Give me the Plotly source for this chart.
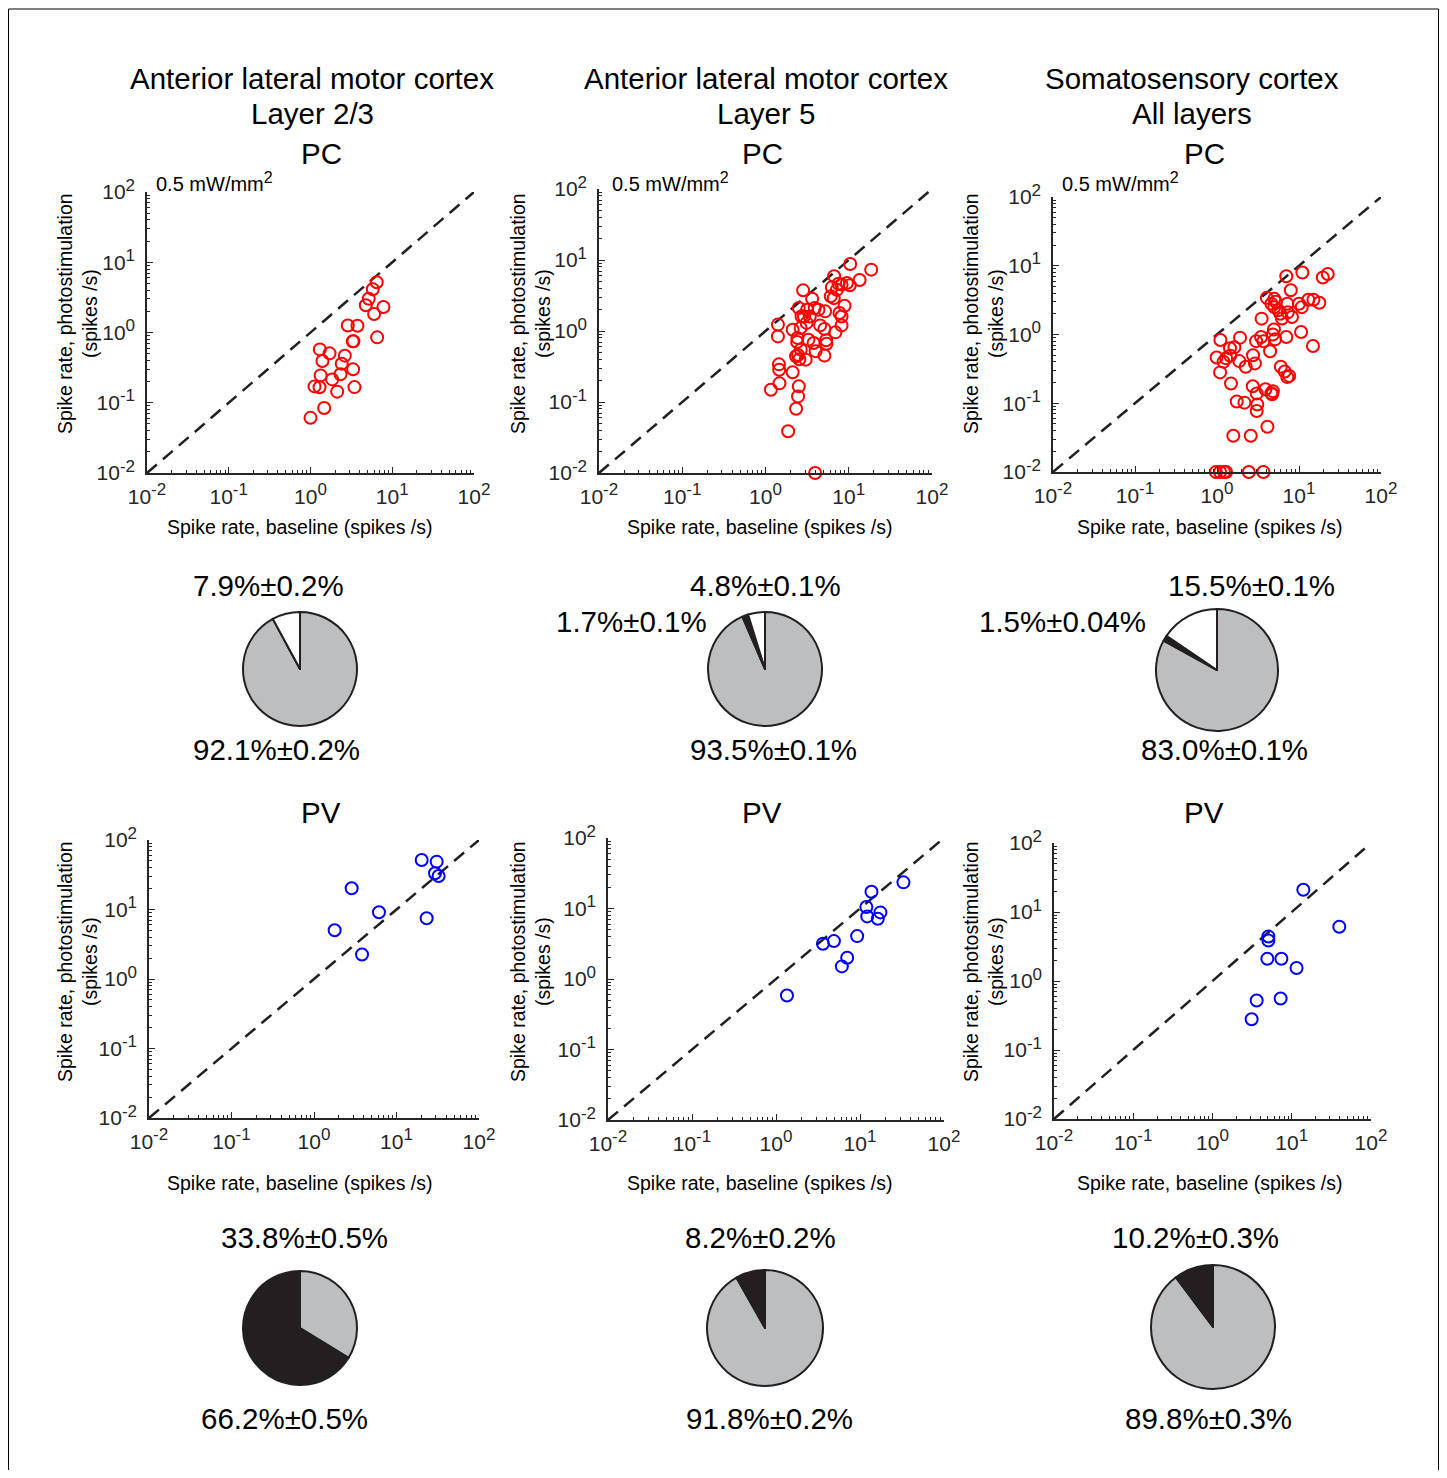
import plotly.graph_objects as go

OFF = 8  # page margin around the plot div
W, H = 1447 - 2 * OFF, 1478 - 2 * OFF

# ---- data ----
# PC, anterior lateral motor cortex layer 2/3
pc1_base = [1.0, 1.47, 1.12, 1.29, 1.33, 2.12, 1.84, 2.33, 2.41, 2.63, 1.40, 1.30, 1.71,
            3.32, 3.45, 3.29, 3.35, 2.86, 3.75, 6.53, 7.8, 6.0, 4.75, 5.16, 5.78, 6.46]
pc1_stim = [0.061, 0.084, 0.171, 0.166, 0.245, 0.144, 0.215, 0.254, 0.36, 0.468, 0.393, 0.575, 0.505,
            0.299, 0.167, 0.748, 0.75, 1.26, 1.25, 0.853, 2.31, 1.83, 2.44, 3.03, 4.12, 5.18]

# PC, anterior lateral motor cortex layer 5
pc2_base = [3.94, 1.87, 2.33, 2.46, 2.51, 1.16, 1.47, 2.12, 1.46, 1.45, 1.41, 1.41, 2.12, 2.42, 2.33,
            2.46, 3.04, 2.65, 2.83, 3.63, 2.51, 3.16, 2.71, 3.12, 2.64, 3.28, 3.78, 4.53, 4.33, 5.2,
            5.1, 5.35, 5.4, 5.1, 6.92, 6.08, 6.26, 6.68, 7.53, 8.2, 7.2, 6.6, 7.74, 8.2, 8.2,
            8.9, 9.5, 10.3, 10.4, 13.5, 18.6, 4.0, 2.9, 3.9, 3.4, 2.4, 2.55]
pc2_stim = [0.01, 0.0387, 0.0805, 0.12, 0.166, 0.149, 0.183, 0.262, 0.285, 0.339, 0.84, 1.23, 1.04, 0.80, 0.44,
            0.46, 0.395, 0.546, 3.74, 2.85, 2.11, 2.0, 1.61, 1.30, 1.1, 0.755, 0.678, 1.2, 2.0, 1.89,
            1.07, 0.74, 0.66, 0.45, 0.957, 3.08, 4.12, 5.89, 4.64, 4.5, 3.8, 2.9, 1.79, 1.6, 1.2,
            2.27, 4.74, 4.4, 8.79, 5.23, 7.31, 0.52, 1.6, 2.1, 1.6, 0.7, 0.40]

# PC, somatosensory cortex
pc3_base = [0.97, 1.09, 1.22, 1.29, 2.44, 3.68, 1.58, 2.58, 4.12, 3.05, 3.1, 1.74, 2.16, 3.05, 2.73, 3.9,
            4.6, 4.7, 4.8, 1.48, 1.09, 0.99, 1.2, 1.29, 1.45, 1.87, 2.24, 2.75, 2.9, 1.1, 1.44,
            1.63, 1.91, 3.0, 3.45, 3.68, 4.44, 4.8, 4.95, 5.1, 6.0, 6.7, 7.2, 7.6, 7.0, 6.2,
            5.6, 5.9, 5.0, 4.6, 5.2, 5.0, 4.05, 3.5, 7.2, 8.2, 7.3, 7.94, 7.0, 11.0, 10.0,
            10.8, 10.6, 14.8, 13.0, 15.0, 17.7, 19.5, 22.4]
pc3_stim = [0.01, 0.01, 0.01, 0.01, 0.01, 0.01, 0.0337, 0.0337, 0.0456, 0.077, 0.096, 0.106, 0.102, 0.139, 0.177, 0.16,
            0.14, 0.135, 0.15, 0.194, 0.281, 0.464, 0.4, 0.45, 0.49, 0.41, 0.339, 0.5, 0.38, 0.83, 0.63,
            0.65, 0.9, 0.8, 0.92, 0.8, 0.57, 1.0, 1.18, 0.85, 0.34, 0.29, 0.24, 0.25, 0.92, 1.71,
            2.26, 2.0, 2.5, 2.8, 3.0, 3.3, 3.41, 1.7, 2.8, 1.8, 2.1, 4.41, 7.04, 7.96, 2.8,
            2.5, 1.09, 0.68, 3.2, 3.2, 2.9, 6.74, 7.6]

# PV cells
pv1_base = [1.78, 2.86, 3.82, 6.13, 20.2, 23.2, 30.7, 29.3, 32.4]
pv1_stim = [5.03, 20.2, 2.25, 9.13, 51.6, 7.49, 48.8, 33.2, 30.4]
pv2_base = [1.35, 3.62, 4.89, 6.08, 7.04, 9.25, 11.9, 12.2, 13.7, 16.3, 17.5, 32.9]
pv2_stim = [0.583, 3.16, 3.45, 1.51, 2.0, 4.06, 10.5, 7.72, 17.3, 7.15, 8.8, 23.5]
pv3_base = [3.12, 3.61, 4.92, 5.07, 5.07, 7.24, 7.4, 11.5, 14.0, 39.8]
pv3_stim = [0.279, 0.521, 2.1, 3.87, 4.42, 0.557, 2.1, 1.54, 21.0, 6.11]

# pie fractions, listed counter-clockwise from 12 o'clock
pc_pie_labels = ["increased", "decreased", "unchanged"]
pc1_pie = [7.9, 0.0, 92.1]
pc2_pie = [4.8, 1.7, 93.5]
pc3_pie = [15.5, 1.5, 83.0]
pv_pie_labels = ["increased", "unchanged"]
pv1_pie = [66.2, 33.8]
pv2_pie = [8.2, 91.8]
pv3_pie = [10.2, 89.8]

pc_pie_text = [["7.9%±0.2%", "", "92.1%±0.2%"],
               ["4.8%±0.1%", "1.7%±0.1%", "93.5%±0.1%"],
               ["15.5%±0.1%", "1.5%±0.04%", "83.0%±0.1%"]]
pv_pie_text = [["33.8%±0.5%", "66.2%±0.5%"],
               ["8.2%±0.2%", "91.8%±0.2%"],
               ["10.2%±0.3%", "89.8%±0.3%"]]

col_titles = [["Anterior lateral motor cortex", "Layer 2/3"],
              ["Anterior lateral motor cortex", "Layer 5"],
              ["Somatosensory cortex", "All layers"]]

tick_vals = [0.01, 0.1, 1, 10, 100]
tick_exp = ["-2", "-1", "0", "1", "2"]
tick_text = ["10<sup><span style='font-size:17px'>%s</span></sup>" % e for e in tick_exp]


def fx(p):
    return (p - OFF) / W


def fy(p):
    return 1 - (p - OFF) / H


FONT = "Liberation Sans, Arial, Helvetica, sans-serif"
INK = "#231f20"
AXC = "#262626"
GRAY = "#bcbec0"

fig = go.Figure()

# axes boxes in pixels: left, right, top, bottom
boxes = [
    (147, 474, 192, 473), (599, 932, 189, 473), (1053, 1381, 197, 472),
    (149, 479, 840, 1118), (608, 944, 838, 1120), (1054, 1371, 843, 1119),
]
series = [(pc1_base, pc1_stim, "red"), (pc2_base, pc2_stim, "red"), (pc3_base, pc3_stim, "red"),
          (pv1_base, pv1_stim, "blue"), (pv2_base, pv2_stim, "blue"), (pv3_base, pv3_stim, "blue")]

minor_vals = [m * 10 ** e for e in range(-2, 2) for m in range(2, 10)]

for i, ((l, r, t, b), (xs, ys, col)) in enumerate(zip(boxes, series)):
    n = "" if i == 0 else str(i + 1)
    # unity line
    fig.add_trace(go.Scatter(x=[0.01, 100], y=[0.01, 100], mode="lines",
                             line=dict(color=INK, width=2.5, dash="13px,8px"),
                             xaxis="x" + n, yaxis="y" + n, showlegend=False, hoverinfo="skip"))
    fig.add_trace(go.Scatter(x=xs, y=ys, mode="markers",
                             marker=dict(symbol="circle-open", size=12, color=col,
                                         line=dict(width=2, color=col)),
                             cliponaxis=False, xaxis="x" + n, yaxis="y" + n, showlegend=False))
    ax = dict(type="log", range=[-2, 2], showgrid=False, zeroline=False, automargin=False,
              showline=True, linecolor=AXC, linewidth=1.5,
              ticks="inside", ticklen=6, tickwidth=1, tickcolor=AXC,
              tickmode="array", tickvals=tick_vals, ticktext=tick_text,
              tickfont=dict(family=FONT, size=21, color=AXC),
              minor=dict(ticks="inside", ticklen=3, tickcolor=AXC, tickvals=minor_vals))
    fig.update_layout({
        "xaxis" + n: dict(ax, domain=[fx(l), fx(r)], anchor="y" + n, ticklabelstandoff=4),
        "yaxis" + n: dict(ax, domain=[fy(b), fy(t)], anchor="x" + n, ticklabelstandoff=6),
    })

# pies (plotly draws them clockwise from 12 o'clock, so the lists are reversed)
pie_geo = [(300, 669, 57), (765, 669, 57), (1217, 670, 61),
           (300, 1328, 57), (765, 1328, 58), (1213, 1327, 62)]
pie_vals = [pc1_pie, pc2_pie, pc3_pie, pv1_pie, pv2_pie, pv3_pie]
for i, ((cx, cy, rad), vals) in enumerate(zip(pie_geo, pie_vals)):
    if i < 3:
        labels, colors = pc_pie_labels, ["#ffffff", INK, GRAY]
    else:
        labels, colors = pv_pie_labels, [INK, GRAY]
    fig.add_trace(go.Pie(values=vals[::-1], labels=labels[::-1], sort=False, direction="clockwise",
                         rotation=0, textinfo="none", hoverinfo="label+percent",
                         marker=dict(colors=colors[::-1], line=dict(color=INK, width=2)),
                         domain=dict(x=[fx(cx - rad), fx(cx + rad)], y=[fy(cy + rad), fy(cy - rad)]),
                         showlegend=False))

ann = []


def text(x, y, s, size, **kw):
    d = dict(x=fx(x), y=fy(y), xref="paper", yref="paper", text=s, showarrow=False,
             font=dict(family=FONT, size=size, color="black"), xanchor="center", yanchor="middle")
    d.update(kw)
    ann.append(d)


# column titles
title_x = [312, 766, 1192]
for cx, (a, b) in zip(title_x, col_titles):
    text(cx, 78, a, 29.5)
    text(cx, 114, b, 29.5)
for cx in [321, 762, 1204]:
    text(cx, 153, "PC", 29.5)
    text(cx, 812, "PV", 29.5)

# axis titles
for cx in [300, 760, 1210]:
    text(cx, 527, "Spike rate, baseline (spikes /s)", 19.5)
    text(cx, 1183, "Spike rate, baseline (spikes /s)", 19.5)
for cx in [77, 530, 983]:
    text(cx, 314, "Spike rate, photostimulation<br>(spikes /s)", 19.5, textangle=-90)
    text(cx, 962, "Spike rate, photostimulation<br>(spikes /s)", 19.5, textangle=-90)

# intensity labels
for lx in [154, 610, 1060]:
    text(lx, 182, "0.5 mW/mm<sup><span style='font-size:16px'>2</span></sup>", 20, xanchor="left")

# pie labels
pc_label_pos = [[(268, 585), None, (276, 749)],
                [(765, 585), (631, 621), (773, 749)],
                [(1251, 585), (1062, 621), (1224, 749)]]
for pos, labs in zip(pc_label_pos, pc_pie_text):
    for p, s in zip(pos, labs):
        if p is not None:
            text(p[0], p[1], s, 29.5)
pv_label_pos = [[(304, 1237), (284, 1418)],
                [(760, 1237), (770, 1418)],
                [(1195, 1237), (1208, 1418)]]
for pos, labs in zip(pv_label_pos, pv_pie_text):
    for p, s in zip(pos, labs):
        text(p[0], p[1], s, 29.5)

fig.update_layout(
    width=W, height=H,
    margin=dict(l=0, r=0, t=0, b=0, autoexpand=False),
    paper_bgcolor="white", plot_bgcolor="white",
    annotations=ann,
    shapes=[dict(type="rect", xref="paper", yref="paper",
                 x0=fx(8.5), x1=fx(1438.5), y0=fy(1500), y1=fy(9),
                 line=dict(color="black", width=1))],
)

fig.write_html("out.html")
